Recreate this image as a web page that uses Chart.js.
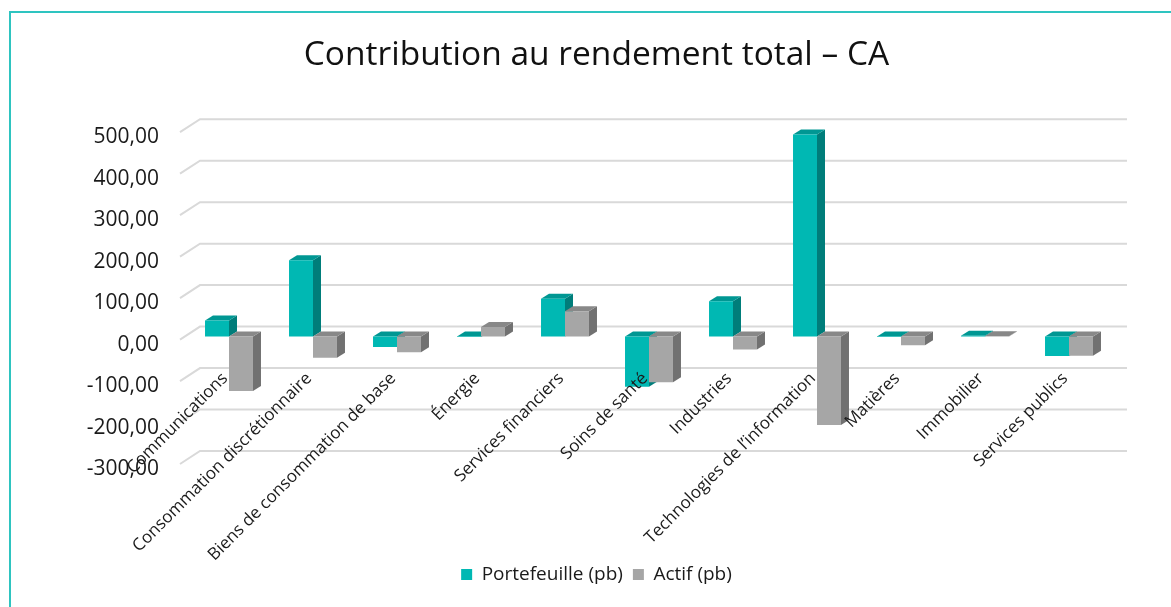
<!DOCTYPE html>
<html>
<head>
<meta charset="utf-8">
<script src="https://cdn.jsdelivr.net/npm/chart.js@4/dist/chart.umd.min.js"></script>
<style>
  html, body { margin: 0; padding: 0; background: #ffffff; }
  #wrap { position: relative; width: 1171px; height: 607px; overflow: hidden; }
  #frame { position: absolute; left: 9px; top: 11px; width: 1200px; height: 700px;
           border-left: 2px solid #2ec4c0; border-top: 2px solid #2ec4c0; box-sizing: border-box; }
  canvas { position: absolute; left: 0; top: 0; }
</style>
</head>
<body>
<div id="wrap">
  <div id="frame"></div>
  <canvas id="c" width="1171" height="607"></canvas>
</div>
<script>
const categories = [
  "Communications",
  "Consommation discrétionnaire",
  "Biens de consommation de base",
  "Énergie",
  "Services financiers",
  "Soins de santé",
  "Industries",
  "Technologies de l’information",
  "Matières",
  "Immobilier",
  "Services publics"
];
const portefeuille = [39, 184, -25, -1, 91, -121, 85, 487, -1, 2, -47];
const actif = [-131, -51, -38, 23, 61, -110, -31, -213, -21, 0.6, -46];
const yTicks = [-300, -200, -100, 0, 100, 200, 300, 400, 500];
const titleText = "Contribution au rendement total – CA";
const seriesNames = ["Portefeuille (pb)", "Actif (pb)"];

const FONT = "'Open Sans', 'Liberation Sans', sans-serif";
const DX = 8, DY = 5;

function shade(hex, f) {
  const n = parseInt(hex.slice(1), 16);
  const r = Math.round(((n >> 16) & 255) * f), g = Math.round(((n >> 8) & 255) * f), b = Math.round((n & 255) * f);
  return `rgb(${r},${g},${b})`;
}

const threeD = {
  id: 'threeD',
  beforeDatasetsDraw(chart) {
    const ctx = chart.ctx;
    const ys = chart.scales.y;
    const area = chart.chartArea;
    ctx.save();
    ctx.strokeStyle = '#d9d9d9';
    ctx.lineWidth = 2;
    yTicks.forEach(v => {
      const yb = ys.getPixelForValue(v);
      ctx.beginPath();
      ctx.moveTo(area.left - 7, yb + 3);
      ctx.lineTo(area.left + 13, yb - 10);
      ctx.lineTo(area.right + 16, yb - 10);
      ctx.stroke();
    });
    chart.data.datasets.forEach((ds, di) => {
      const meta = chart.getDatasetMeta(di);
      const base = ds.backgroundColor;
      meta.data.forEach(bar => {
        const p = bar.getProps(['x', 'y', 'base', 'width'], true);
        const left = p.x - p.width / 2, right = p.x + p.width / 2;
        const top = Math.min(p.y, p.base), bottom = Math.max(p.y, p.base);
        ctx.fillStyle = shade(base, 0.68);
        ctx.beginPath();
        ctx.moveTo(right, top);
        ctx.lineTo(right + DX, top - DY);
        ctx.lineTo(right + DX, bottom - DY);
        ctx.lineTo(right, bottom);
        ctx.closePath();
        ctx.fill();
        ctx.fillStyle = shade(base, 0.82);
        ctx.beginPath();
        ctx.moveTo(left, top);
        ctx.lineTo(left + DX, top - DY);
        ctx.lineTo(right + DX, top - DY);
        ctx.lineTo(right, top);
        ctx.closePath();
        ctx.fill();
      });
    });
    ctx.restore();
  }
};

new Chart(document.getElementById('c'), {
  type: 'bar',
  data: {
    labels: categories,
    datasets: [
      { label: seriesNames[0], data: portefeuille, backgroundColor: '#00b8b3', borderWidth: 0 },
      { label: seriesNames[1], data: actif, backgroundColor: '#a6a6a6', borderWidth: 0 }
    ]
  },
  options: {
    responsive: false,
    animation: false,
    events: [],
    categoryPercentage: 0.571,
    barPercentage: 1.0,
    layout: { padding: { left: 82, right: 60, top: 0, bottom: 13 } },
    scales: {
      x: {
        position: 'bottom',
        grid: { display: false },
        border: { display: false },
        ticks: { display: false },
        afterFit(s) { s.height = 94; }
      },
      x2: {
        type: 'category',
        labels: categories,
        offset: true,
        position: { y: 0 },
        z: 1,
        grid: { display: false },
        border: { display: false },
        ticks: {
          z: 1,
          autoSkip: false, minRotation: 45, maxRotation: 45, padding: 24, labelOffset: -4,
          color: '#1a1a1a', font: { family: FONT, size: 17 }
        }
      },
      y: {
        min: -300, max: 500,
        afterBuildTicks(s) { s.ticks = yTicks.map(v => ({ value: v })); },
        grid: { display: false },
        border: { display: false },
        afterFit(s) { s.width = 105; },
        ticks: {
          padding: 20,
          labelOffset: 8,
          color: '#1a1a1a',
          font: { family: FONT, size: 21 },
          callback: v => v.toFixed(2).replace('.', ',')
        }
      }
    },
    plugins: {
      title: {
        display: true, text: titleText, color: '#111',
        font: { family: FONT, size: 33.5, weight: 'normal' },
        padding: { top: 35, bottom: 54 }
      },
      legend: {
        position: 'bottom',
        labels: {
          color: '#1a1a1a', font: { family: FONT, size: 19 },
          boxWidth: 11, boxHeight: 11, padding: 10
        }
      },
      tooltip: { enabled: false }
    }
  },
  plugins: [threeD]
});
</script>
</body>
</html>
